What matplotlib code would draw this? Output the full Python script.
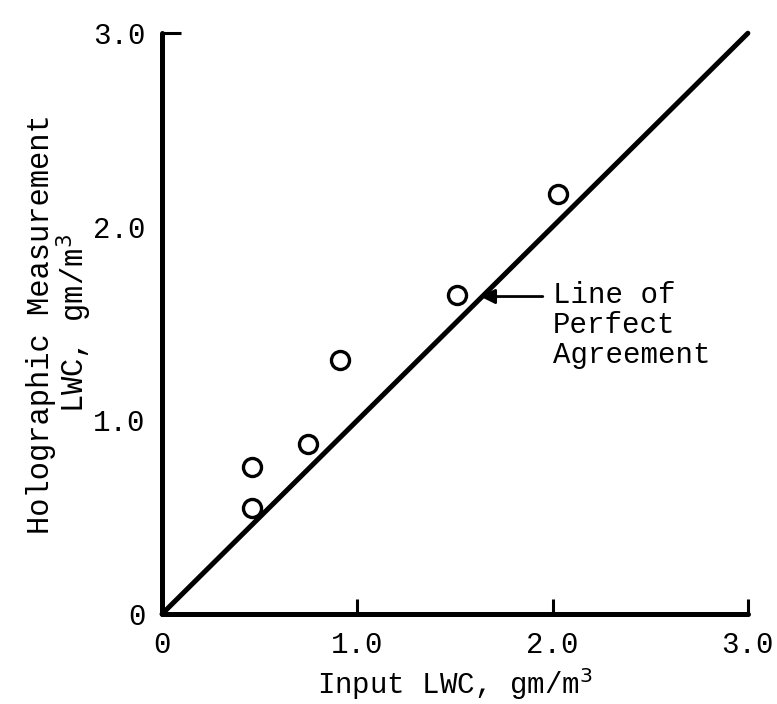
"""Holographic vs input LWC scatter with line of perfect agreement."""

import matplotlib

matplotlib.use("Agg")
import matplotlib.pyplot as plt

# Data
input_lwc = [0.46, 0.46, 0.75, 0.91, 1.51, 2.03]
holo_lwc = [0.76, 0.55, 0.88, 1.31, 1.65, 2.17]
agreement_x = [0.0, 3.0]
agreement_y = [0.0, 3.0]

x_ticks = [0, 1.0, 2.0, 3.0]
x_tick_labels = ["0", "1.0", "2.0", "3.0"]
y_ticks = [0, 1.0, 2.0, 3.0]
y_tick_labels = ["0", "1.0", "2.0", "3.0"]

FONT = "Liberation Mono"
FS = 21

fig = plt.figure(figsize=(7.77, 7.04), dpi=100)
ax = fig.add_axes([0.2085, 0.1278, 0.754, 0.825])

# Line of perfect agreement
ax.plot(agreement_x, agreement_y, color="black", linewidth=3.6,
        solid_capstyle="round", clip_on=False, zorder=3)

# Measured points
ax.plot(input_lwc, holo_lwc, linestyle="none", marker="o", markersize=13,
        markerfacecolor="white", markeredgecolor="black",
        markeredgewidth=2.4, clip_on=False, zorder=4)

ax.set_xlim(0, 3.0)
ax.set_ylim(0, 3.0)

for side in ("top", "right"):
    ax.spines[side].set_visible(False)
for side in ("left", "bottom"):
    ax.spines[side].set_linewidth(3.6)
    ax.spines[side].set_capstyle("round")

ax.set_xticks(x_ticks)
ax.set_xticklabels(x_tick_labels, fontfamily=FONT, fontsize=FS)
ax.set_yticks(y_ticks)
ax.set_yticklabels(y_tick_labels, fontfamily=FONT, fontsize=FS)
ax.tick_params(axis="x", direction="in", length=11, width=2.2, pad=12)
ax.tick_params(axis="y", direction="in", length=14, width=2.2, pad=12)

# only the top y tick is drawn in the original
for tick in ax.yaxis.get_major_ticks()[:-1]:
    tick.tick1line.set_visible(False)
ax.xaxis.get_major_ticks()[0].tick1line.set_visible(False)

ax.set_xlabel("Input LWC, gm/m$^3$", fontfamily=FONT, fontsize=FS, labelpad=5)
ax.set_ylabel("Holographic Measurement\nLWC, gm/m$^3$", fontfamily=FONT,
              fontsize=22, labelpad=-1, linespacing=0.95)

# Annotation arrow and label
ax.annotate("", xy=(1.63, 1.64), xytext=(1.95, 1.64),
            arrowprops=dict(arrowstyle="-|>", color="black", lw=2.0,
                            mutation_scale=22, shrinkA=0, shrinkB=0))
ax.text(2.0, 1.72, "Line of\nPerfect\nAgreement", fontfamily=FONT,
        fontsize=FS, va="top", ha="left", linespacing=1.1)

fig.savefig("out.png", dpi=100, facecolor="white")
